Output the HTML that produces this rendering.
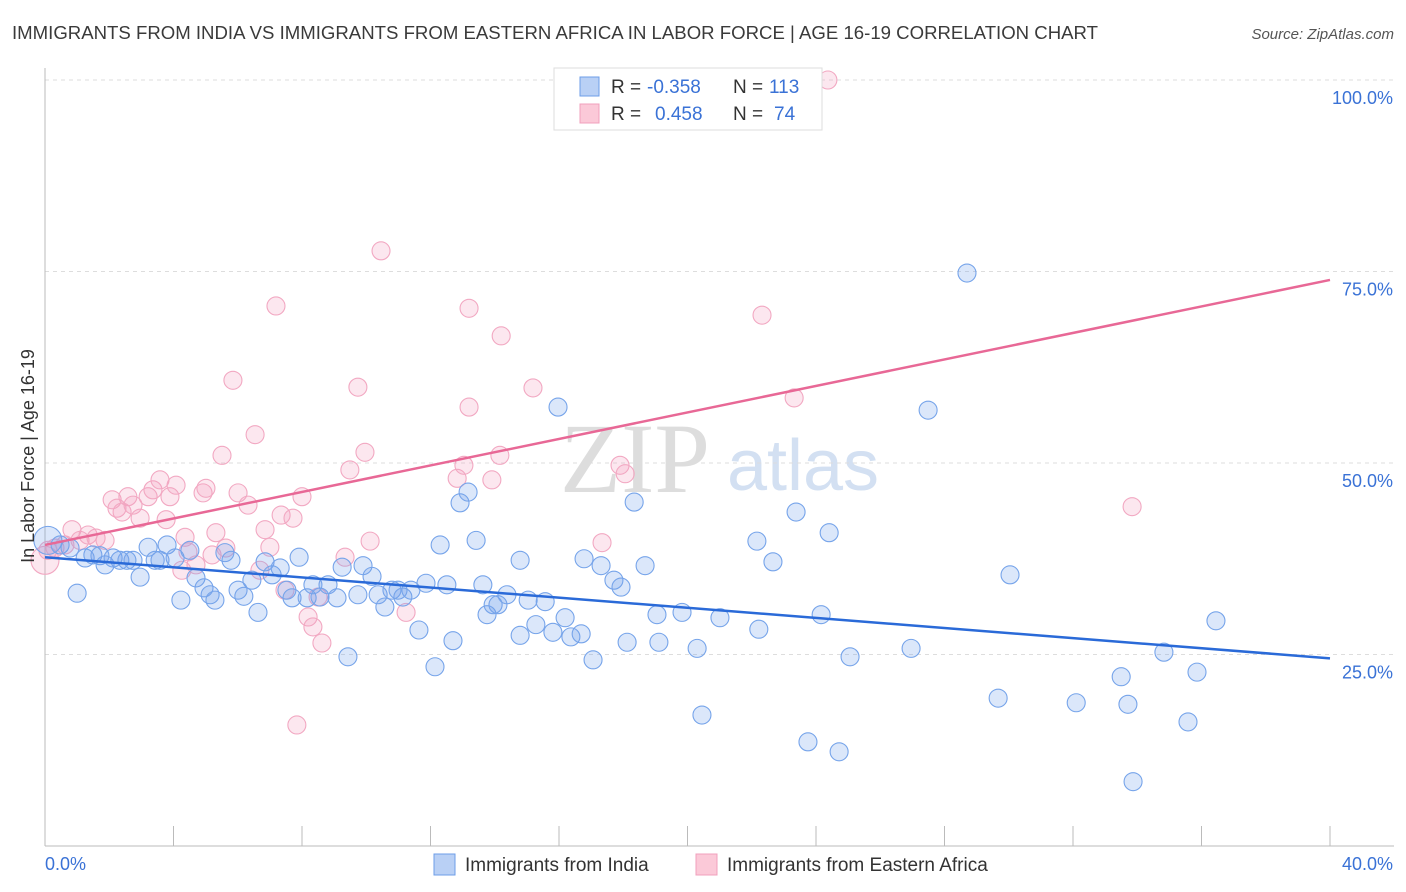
<!DOCTYPE html>
<html><head><meta charset="utf-8"><style>
body{margin:0;background:#fff;font-family:"Liberation Sans",sans-serif;}
svg{display:block}
</style></head><body>
<svg id="chart" width="1406" height="892">
<text x="12" y="39" font-size="18" fill="#3a3a3a" textLength="1086" lengthAdjust="spacingAndGlyphs">IMMIGRANTS FROM INDIA VS IMMIGRANTS FROM EASTERN AFRICA IN LABOR FORCE | AGE 16-19 CORRELATION CHART</text>
<text x="1394" y="39" font-size="15" font-style="italic" fill="#555" text-anchor="end">Source: ZipAtlas.com</text>
<g>
<text x="635" y="492" font-size="100" font-family="Liberation Serif,serif" fill="#ddd" text-anchor="middle">ZIP</text>
<text x="803" y="490" font-size="72" fill="#d3e0f2" text-anchor="middle">atlas</text>
</g>
<g id="grid"></g>
<g id="axes"></g>
<g id="marks"></g>
<text transform="translate(34,456) rotate(-90)" font-size="18" fill="#333" text-anchor="middle">In Labor Force | Age 16-19</text>
<g>
<rect x="554" y="68" width="268" height="62" fill="#fff" stroke="#ddd"/>
<rect x="580" y="77" width="19" height="19" fill="#b9d0f5" stroke="#6d9ee8"/>
<rect x="580" y="104" width="19" height="19" fill="#fbc9d8" stroke="#f0a0bc"/>
<text x="611" y="93" font-size="19" fill="#333">R =</text>
<text x="647" y="93" font-size="19" fill="#3a72d6">-0.358</text>
<text x="733" y="93" font-size="19" fill="#333">N =</text>
<text x="769" y="93" font-size="19" fill="#3a72d6">113</text>
<text x="611" y="120" font-size="19" fill="#333">R =</text>
<text x="655" y="120" font-size="19" fill="#3a72d6">0.458</text>
<text x="733" y="120" font-size="19" fill="#333">N =</text>
<text x="774" y="120" font-size="19" fill="#3a72d6">74</text>
</g>
<g>
<rect x="434" y="854" width="21" height="21" fill="#b9d0f5" stroke="#6d9ee8"/>
<text x="465" y="871" font-size="19" fill="#333">Immigrants from India</text>
<rect x="696" y="854" width="21" height="21" fill="#fbc9d8" stroke="#f0a0bc"/>
<text x="727" y="871" font-size="19" fill="#333">Immigrants from Eastern Africa</text>
</g>
</svg>
<script>
const xTicks=[0,5,10,15,20,25,30,35,40];
const yTicks=[25,50,75,100];
const yTickLabels=["25.0%","50.0%","75.0%","100.0%"];
const xEndLabels=["0.0%","40.0%"];
const indiaX=[0.09,0.47,1.0,1.25,1.49,1.87,2.12,2.33,2.55,2.74,2.96,3.21,3.43,3.58,3.80,4.05,4.23,4.51,4.70,4.95,5.14,5.29,5.60,5.79,6.01,6.19,6.44,6.63,6.85,7.07,7.32,7.53,7.69,7.91,8.16,8.34,8.56,8.81,9.09,9.25,9.43,9.74,9.90,10.18,10.37,10.58,10.80,10.99,11.14,11.39,11.64,11.86,12.14,12.51,12.70,12.30,12.92,13.17,13.42,13.63,13.76,13.95,14.10,14.38,14.79,14.79,15.04,15.28,15.57,15.81,15.97,16.19,16.37,16.69,16.78,17.06,17.31,17.71,17.93,18.12,18.34,18.68,19.05,19.11,19.83,20.30,20.45,21.01,22.16,22.22,22.66,23.38,23.75,24.16,24.41,24.72,25.06,26.96,27.49,28.70,29.67,30.04,32.10,33.50,33.71,33.87,34.83,35.58,35.86,36.45,1.71,0.78];
const indiaY=[39.9,39.3,33.0,37.6,38.0,36.7,37.6,37.3,37.3,37.3,35.1,39.0,37.3,37.3,39.3,37.6,32.1,38.6,35.0,33.7,32.8,32.1,38.3,37.3,33.4,32.6,34.7,30.5,37.1,35.4,36.3,33.4,32.4,37.7,32.4,34.1,32.5,34.1,32.4,36.4,24.7,32.8,36.6,35.2,32.8,31.2,33.4,33.4,32.5,33.4,28.2,34.3,23.4,34.1,26.8,39.3,44.8,46.2,39.9,34.1,30.2,31.5,31.5,32.8,37.3,27.5,32.1,28.9,31.9,27.9,57.3,29.8,27.3,27.7,37.5,24.3,36.6,34.7,33.8,26.6,44.9,36.6,30.2,26.6,30.5,25.8,17.1,29.8,39.8,28.3,37.1,43.6,13.6,30.2,40.9,12.3,24.7,25.8,56.9,74.8,19.3,35.4,18.7,22.1,18.5,8.4,25.3,16.2,22.7,29.4,37.9,38.9];
const africaX=[0.0,0.09,0.31,0.62,0.84,1.09,1.34,1.59,1.87,2.09,2.24,2.40,2.58,2.74,2.96,3.21,3.36,3.58,3.77,3.89,4.08,4.26,4.36,4.45,4.70,4.92,5.01,5.20,5.32,5.51,5.63,5.85,6.01,6.32,6.54,6.69,6.85,7.00,7.19,7.35,7.47,7.72,7.84,8.00,8.19,8.34,8.50,8.62,9.34,9.49,9.74,9.96,10.12,10.46,11.24,12.83,13.04,13.20,13.20,13.91,14.16,14.20,15.19,17.34,17.90,18.06,22.32,23.32,24.37,33.84];
const africaY=[37.3,38.6,38.9,39.3,41.3,39.9,40.6,40.2,39.9,45.2,44.1,43.6,45.6,44.5,42.8,45.6,46.5,47.8,42.6,45.6,47.1,36.0,40.3,38.4,36.7,46.1,46.7,38.0,40.9,51.0,38.9,60.8,46.1,44.5,53.7,36.0,41.3,39.0,70.5,43.2,33.4,42.8,15.8,45.6,29.9,28.6,32.5,26.5,37.7,49.1,59.9,51.4,39.8,77.7,30.5,48.0,49.7,57.3,70.2,47.8,51.0,66.6,59.8,39.6,49.7,48.6,69.3,58.5,100.0,44.3];
const indiaTrend=[37.7,24.5];
const africaTrend=[39.3,73.9];
const NS="http://www.w3.org/2000/svg";
const L=45,R=1330,T=80,B=846;
const sx=v=>L+(v/40)*(R-L);
const sy=v=>B-(v/100)*(B-T);
function mk(tag,at,parent){const e=document.createElementNS(NS,tag);for(const k in at)e.setAttribute(k,at[k]);parent.appendChild(e);return e;}
const grid=document.getElementById('grid'),axes=document.getElementById('axes'),marks=document.getElementById('marks');
yTicks.forEach((t,i)=>{
 const g=mk('line',{x1:L,x2:1394,y1:sy(t),y2:sy(t),stroke:'#ddd','stroke-dasharray':'4,4'},grid);
 
 
 const lb=mk('text',{x:1393,y:sy(t)+24,'font-size':18,fill:'#3a72d6','text-anchor':'end'},axes);
 lb.textContent=yTickLabels[i];
 
 
});
const ax=mk('line',{x1:L,x2:L,y1:68,y2:B,stroke:'#bbb'},axes);


const bx=mk('line',{x1:L,x2:1394,y1:B,y2:B,stroke:'#bbb'},axes);


for(let v=0;v<=40;v+=40/10){
 const t=mk('line',{x1:sx(v),x2:sx(v),y1:826,y2:B,stroke:'#bbb'},axes);
 
 
}
[[0,'start'],[40,'end']].forEach((p,i)=>{
 const lb=mk('text',{x:i?1393:45,y:870,'font-size':18,fill:'#3a72d6','text-anchor':p[1]},axes);
 lb.textContent=xEndLabels[i];
 
 
});
function pts(X,Y,fill,stroke,name){
 X.forEach((x,i)=>{
  const big=i===0;
  const c=mk('circle',{cx:sx(x),cy:sy(Y[i]),r:big?14:9,fill:fill,stroke:stroke,'stroke-width':1.1},marks);
  
  
 });
}
pts(africaX,africaY,'rgba(245,160,190,0.25)','#f2a8c2','point-eastern-africa');
pts(indiaX,indiaY,'rgba(110,160,235,0.25)','#76a4ea','point-india');
const l1=mk('line',{x1:sx(0),y1:sy(indiaTrend[0]),x2:sx(40),y2:sy(indiaTrend[1]),stroke:'#2a6ad8','stroke-width':2.5},marks);


const l2=mk('line',{x1:sx(0),y1:sy(africaTrend[0]),x2:sx(40),y2:sy(africaTrend[1]),stroke:'#e86896','stroke-width':2.5},marks);


</script>
</body></html>
